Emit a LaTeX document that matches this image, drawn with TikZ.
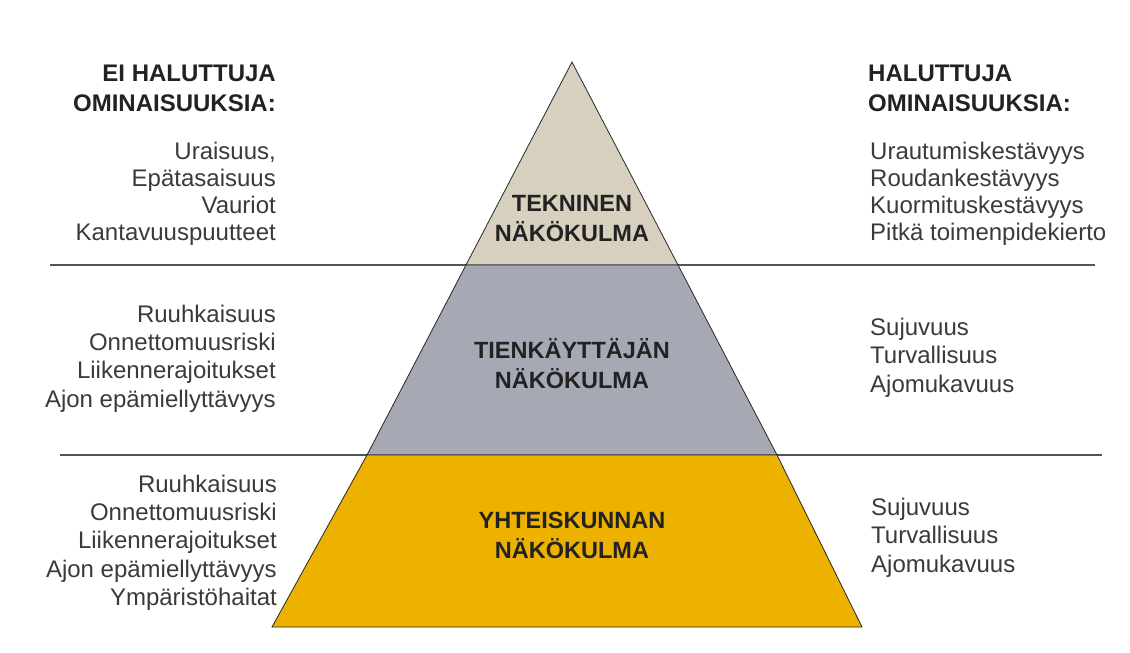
\documentclass[tikz,border=0pt]{standalone}
\usepackage{fontspec}
\setmainfont{Liberation Sans}
\definecolor{topfill}{HTML}{D8D0BF}
\definecolor{midfill}{HTML}{A6A9B4}
\definecolor{botfill}{HTML}{EDB100}
\definecolor{rulecol}{HTML}{555555}
\definecolor{txt}{HTML}{3A3A3A}
\definecolor{hdr}{HTML}{222222}
\tikzset{
  body/.style={inner sep=0pt, text=txt, font=\fontsize{24}{27}\selectfont},
  wide/.style={font=\fontsize{24}{28.3}\selectfont},
  lbody/.style={body, align=right, anchor=east},
  rbody/.style={body, align=left, anchor=west},
  head/.style={inner sep=0pt, text=hdr, font=\bfseries\fontsize{24}{30}\selectfont},
  title/.style={inner sep=0pt, text=hdr, align=center, font=\bfseries\fontsize{23.5}{30}\selectfont},
  layer/.style={draw=black!85, line width=0.8pt, line join=miter},
  rulel/.style={draw=rulecol, line width=1.6pt}
}
\begin{document}
\begin{tikzpicture}[x=1pt,y=-1pt]
\useasboundingbox (0,0) rectangle (1130,653);
% pyramid corners
\coordinate (apex) at (572,62);
\coordinate (l1) at (466,265);
\coordinate (r1) at (678,265);
\coordinate (l2) at (367,455);
\coordinate (r2) at (777,455);
\coordinate (bl) at (272,627);
\coordinate (br) at (862,627);
% rules
\coordinate (ruleAa) at (50,265);
\coordinate (ruleAb) at (1095,265);
\coordinate (ruleBa) at (60,455);
\coordinate (ruleBb) at (1102,455);
\draw[rulel] (ruleAa) -- (ruleAb);
\draw[rulel] (ruleBa) -- (ruleBb);
% layers
\path[layer, fill=topfill] (apex) -- (r1) -- (l1) -- cycle;
\path[layer, fill=midfill] (l1) -- (r1) -- (r2) -- (l2) -- cycle;
\path[layer, fill=botfill] (l2) -- (r2) -- (br) -- (bl) -- cycle;
% layer titles
\node[title] (t1) at (572,218.5) {TEKNINEN\\NÄKÖKULMA};
\node[title] (t2) at (572,363.5) {TIENKÄYTTÄJÄN\\NÄKÖKULMA};
\node[title] (t3) at (572,535) {YHTEISKUNNAN\\NÄKÖKULMA};
% headers
\node[head, align=right, anchor=east] (hl) at (276,88) {EI HALUTTUJA\\OMINAISUUKSIA:};
\node[head, align=left, anchor=west] (hr) at (868,88) {HALUTTUJA\\OMINAISUUKSIA:};
% left texts
\node[lbody] (L1) at (276,193.5) {Uraisuus,\\Epätasaisuus\\Vauriot\\Kantavuuspuutteet};
\node[lbody, wide] (L2) at (276,358.5) {Ruuhkaisuus\\Onnettomuusriski\\Liikennerajoitukset\\Ajon epämiellyttävyys};
\node[lbody, wide] (L3) at (277,542.5) {Ruuhkaisuus\\Onnettomuusriski\\Liikennerajoitukset\\Ajon epämiellyttävyys\\Ympäristöhaitat};
% right texts
\node[rbody] (R1) at (870,193.5) {Urautumiskestävyys\\Roudankestävyys\\Kuormituskestävyys\\Pitkä toimenpidekierto};
\node[rbody, wide] (R2) at (870,357.5) {Sujuvuus\\Turvallisuus\\Ajomukavuus};
\node[rbody, wide] (R3) at (871,537.5) {Sujuvuus\\Turvallisuus\\Ajomukavuus};
\end{tikzpicture}
\end{document}
